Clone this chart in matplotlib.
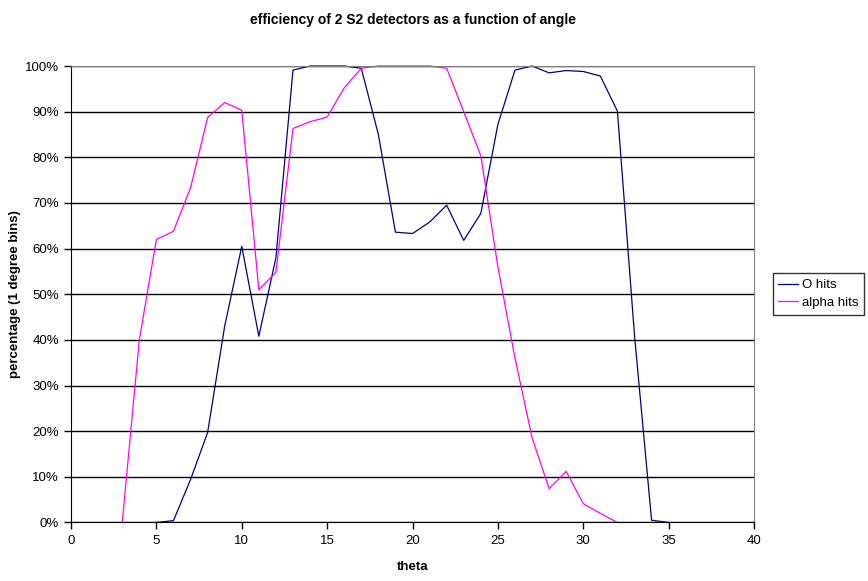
import matplotlib
matplotlib.use("Agg")
import matplotlib.pyplot as plt
from matplotlib.ticker import PercentFormatter, MultipleLocator

plt.rcParams["font.family"] = ["Liberation Sans", "DejaVu Sans"]

# theta (1 degree bins) and efficiency in %
theta_o = list(range(5, 36))
o_hits = [0, 0.4, 9.4, 19.7, 43, 60.5, 40.8, 58, 99.1, 100, 100, 100, 99.5, 85,
          63.6, 63.3, 65.8, 69.5, 61.8, 67.7, 87.2, 99.1, 100, 98.5, 99, 98.8,
          97.8, 90.1, 41, 0.5, 0]

theta_a = list(range(3, 33))
alpha_hits = [0, 40, 62, 63.8, 73.3, 88.7, 92, 90.3, 51, 54.8, 86.3, 87.8, 88.8,
              95.2, 99.5, 100, 100, 100, 100, 99.5, 90, 80.3, 56, 36, 18.6, 7.4,
              11.2, 4.1, 2, 0]

fig = plt.figure(figsize=(8.68, 5.81), dpi=100)
ax = fig.add_axes([0.0818, 0.1007, 0.7869, 0.7857])

ax.plot(theta_o, o_hits, color="#000080", lw=0.9, label="O hits", clip_on=False)
ax.plot(theta_a, alpha_hits, color="#FF00FF", lw=0.9, label="alpha hits", clip_on=False)

ax.set_xlim(0, 40)
ax.set_ylim(0, 100)
ax.xaxis.set_major_locator(MultipleLocator(5))
ax.yaxis.set_major_locator(MultipleLocator(10))
ax.yaxis.set_major_formatter(PercentFormatter(decimals=0))
ax.grid(axis="y", color="black", lw=1.0)
ax.set_axisbelow(True)

for side in ("top", "right"):
    ax.spines[side].set_color("#808080")
for side in ("left", "bottom"):
    ax.spines[side].set_color("black")
ax.tick_params(direction="out", length=5, width=1, labelsize=9.5, colors="black")
ax.tick_params(axis="x", pad=4)

ax.set_title("efficiency of 2 S2 detectors as a function of angle",
             fontsize=10, fontweight="bold", pad=30)
ax.set_xlabel("theta", fontsize=9.5, fontweight="bold", labelpad=10)
ax.set_ylabel("percentage (1 degree bins)", fontsize=9.5, fontweight="bold", labelpad=3)

leg = fig.legend(loc="center left", bbox_to_anchor=(0.890, 0.494),
                 fontsize=9.5, frameon=True, fancybox=False, handlelength=1.5,
                 handletextpad=0.25, borderpad=0.45, labelspacing=0.4,
                 borderaxespad=0)
leg.get_frame().set_edgecolor("black")
leg.get_frame().set_linewidth(1.0)

fig.savefig("out.png", dpi=100)
